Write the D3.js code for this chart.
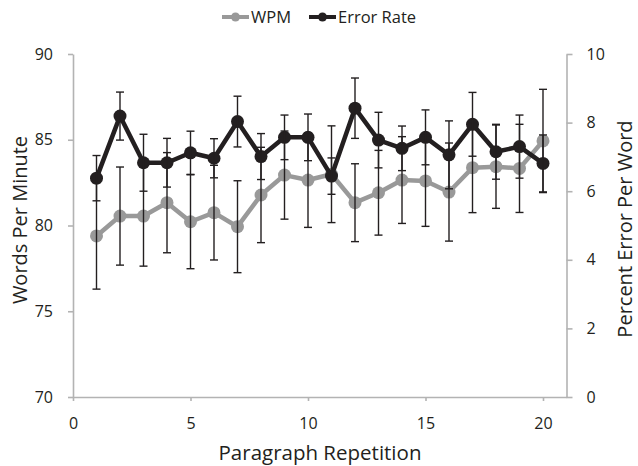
<!DOCTYPE html>
<html><head><meta charset="utf-8">
<script src="https://cdn.jsdelivr.net/npm/d3@7"></script>
<style>
html,body{margin:0;padding:0;background:#fff;}
svg{display:block;font-family:"Open Sans",sans-serif;}
</style></head>
<body><svg id="c" width="638" height="466"></svg>
<script>
const reps = [1,2,3,4,5,6,7,8,9,10,11,12,13,14,15,16,17,18,19,20];
const wpm = [79.39,80.55,80.55,81.33,80.22,80.75,79.93,81.78,82.94,82.65,82.99,81.33,81.91,82.65,82.6,81.95,83.37,83.43,83.33,84.93];
const wpmErr = [3.1,2.86,2.92,2.92,2.74,2.76,2.68,2.78,2.57,2.76,2.82,2.27,2.47,2.53,2.65,2.86,2.62,2.43,2.57,3.01];
const errRate = [6.38,8.19,6.83,6.83,7.12,6.96,8.03,7.01,7.57,7.57,6.44,8.42,7.49,7.25,7.57,7.06,7.95,7.15,7.30,6.81];
const errRateErr = [0.66,0.70,0.83,0.71,0.63,0.57,0.74,0.67,0.65,0.68,0.53,0.88,0.81,0.65,0.80,0.99,0.93,0.80,0.92,0.83];
const xTicks = [0,5,10,15,20];
const yLeftTicks = [70,75,80,85,90];
const yRightTicks = [0,2,4,6,8,10];
const seriesNames = ["WPM","Error Rate"];

const svg = d3.select("#c");
const x = d3.scaleLinear().domain([0,21]).range([73,566.5]);
const yL = d3.scaleLinear().domain([70,90]).range([397,54]);
const yR = d3.scaleLinear().domain([0,10]).range([397,54]);
const axisCol = "#b3b3b3", textCol = "#231f20";
const gray = "#999999", black = "#231f20";

function styleAxis(g){
  g.selectAll("path,line").attr("stroke",axisCol).attr("stroke-width",1.6);
  g.selectAll("text").attr("fill",textCol).style("font-size","16px").style("font-family","'Open Sans',sans-serif");
}
svg.append("g").attr("transform","translate(73,0)")
  .call(d3.axisLeft(yL).tickValues(yLeftTicks).tickSize(5).tickSizeOuter(0).tickPadding(15)).call(styleAxis);
svg.append("g").attr("transform","translate(566.5,0)")
  .call(d3.axisRight(yR).tickValues(yRightTicks).tickSize(6).tickSizeOuter(0).tickPadding(14)).call(styleAxis);
svg.append("g").attr("transform","translate(0,397)")
  .call(d3.axisBottom(x).tickValues(xTicks).tickSize(4).tickSizeOuter(0).tickPadding(17)).call(styleAxis);

// titles
svg.append("text").attr("transform","translate(27,220) rotate(-90)").attr("text-anchor","middle")
  .attr("fill",textCol).style("font-size","20px").text("Words Per Minute");
svg.append("text").attr("transform","translate(632,229) rotate(-90)").attr("text-anchor","middle")
  .attr("fill",textCol).style("font-size","20px").text("Percent Error Per Word");
svg.append("text").attr("x",320).attr("y",460).attr("text-anchor","middle")
  .attr("fill",textCol).style("font-size","20.5px").text("Paragraph Repetition");

// lines
const wData = reps.map((r,i)=>({x:r,y:wpm[i],e:wpmErr[i]}));
const eData = reps.map((r,i)=>({x:r,y:errRate[i],e:errRateErr[i]}));
function drawSeries(data, ys, col){
  svg.append("path").datum(data).attr("fill","none").attr("stroke",col).attr("stroke-width",4.5)
    .attr("stroke-linejoin","round")
    .attr("d", d3.line().x(d=>x(d.x)).y(d=>ys(d.y)));
  svg.append("g").selectAll("circle").data(data).join("circle")
    .attr("cx",d=>x(d.x)).attr("cy",d=>ys(d.y)).attr("r",6.5).attr("fill",col);
}
drawSeries(wData, yL, gray);
drawSeries(eData, yR, black);

function drawErr(data, ys){
  const g = svg.append("g").attr("stroke","#231f20").attr("stroke-width",1.4);
  data.forEach(d=>{
    const cx = x(d.x), t = ys(d.y+d.e), b = ys(d.y-d.e);
    g.append("line").attr("x1",cx).attr("x2",cx).attr("y1",t).attr("y2",b);
    g.append("line").attr("x1",cx-4).attr("x2",cx+4).attr("y1",t).attr("y2",t);
    g.append("line").attr("x1",cx-4).attr("x2",cx+4).attr("y1",b).attr("y2",b);
  });
}
drawErr(wData, yL);
drawErr(eData, yR);

// legend
const leg = [{name:seriesNames[0],col:gray,x0:222},{name:seriesNames[1],col:black,x0:309}];
leg.forEach(l=>{
  const g = svg.append("g");
  g.append("line").attr("x1",l.x0).attr("x2",l.x0+27).attr("y1",17).attr("y2",17).attr("stroke",l.col).attr("stroke-width",4);
  g.append("circle").attr("cx",l.x0+13.5).attr("cy",17).attr("r",4.5).attr("fill",l.col);
  g.append("text").attr("x",l.x0+29).attr("y",23).attr("fill",textCol).style("font-size","16.5px").text(l.name);
});
</script></body></html>
